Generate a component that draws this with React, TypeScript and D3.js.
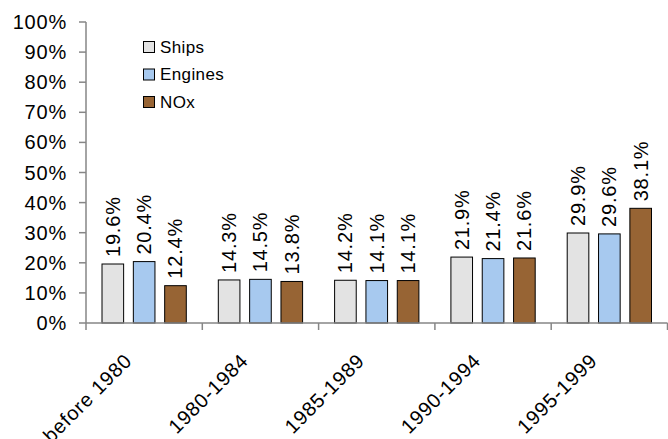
import React from "react";
import * as d3 from "d3";

const categories = ["before 1980", "1980-1984", "1985-1989", "1990-1994", "1995-1999"];
const seriesNames = ["Ships", "Engines", "NOx"];
const ships = [19.6, 14.3, 14.2, 21.9, 29.9];
const engines = [20.4, 14.5, 14.1, 21.4, 29.6];
const nox = [12.4, 13.8, 14.1, 21.6, 38.1];
const seriesColors = ["#e3e3e3", "#a7c9ef", "#976434"];
const yTicks = [0, 10, 20, 30, 40, 50, 60, 70, 80, 90, 100];

const W = 668;
const H = 439;
const FONT = "'Liberation Sans', Arial, Helvetica, sans-serif";

export default function App() {
  const values = [ships, engines, nox];
  const x0 = d3.scaleBand<string>().domain(categories).range([86, 667.5]).padding(0);
  const groupW = 94;
  const x1 = d3
    .scaleBand<string>()
    .domain(seriesNames)
    .range([0, groupW])
    .paddingInner(0.31)
    .paddingOuter(0.155);
  const y = d3.scaleLinear().domain([0, 100]).range([323, 22]);
  const axisColor = "#868686";

  const boundaries = [...categories.map((c) => x0(c)!), x0.range()[1]];

  return (
    <svg
      width={W}
      height={H}
      style={{ position: "absolute", left: 0, top: 0, background: "#fff" }}
      fontFamily={FONT}
    >
      <rect x={0} y={0} width={W} height={H} fill="#fff" />

      {/* y axis */}
      <line x1={86} x2={86} y1={y(100)} y2={y(0)} stroke={axisColor} strokeWidth={1.5} />
      {yTicks.map((t) => (
        <g key={t}>
          <line x1={79} x2={86} y1={y(t)} y2={y(t)} stroke={axisColor} strokeWidth={1.5} />
          <text
            x={67}
            y={y(t)}
            dy="0.35em"
            textAnchor="end"
            fontSize={20}
            letterSpacing={0.8}
            fill="#000"
          >
            {t}%
          </text>
        </g>
      ))}

      {/* bars */}
      {categories.map((c, ci) => {
        const gx = x0(c)! + (x0.bandwidth() - groupW) / 2;
        return (
          <g key={c}>
            {seriesNames.map((s, si) => {
              const v = values[si][ci];
              const bx = gx + x1(s)!;
              const bw = x1.bandwidth();
              const top = y(v);
              const cx = bx + bw / 2;
              return (
                <g key={s}>
                  <rect
                    x={bx}
                    y={top}
                    width={bw}
                    height={y(0) - top}
                    fill={seriesColors[si]}
                    stroke="#000"
                    strokeWidth={1}
                  />
                  <text
                    transform={`translate(${cx + 7},${top - 7}) rotate(-90)`}
                    textAnchor="start"
                    fontSize={20}
                    letterSpacing={0.8}
                    fill="#000"
                  >
                    {v.toFixed(1)}%
                  </text>
                </g>
              );
            })}
          </g>
        );
      })}

      {/* x axis */}
      <line x1={86} x2={667.5} y1={y(0)} y2={y(0)} stroke={axisColor} strokeWidth={1.5} />
      {boundaries.map((bx, i) => (
        <line key={i} x1={bx} x2={bx} y1={y(0)} y2={y(0) + 7} stroke={axisColor} strokeWidth={1.5} />
      ))}
      {categories.map((c) => {
        const cx = x0(c)! + x0.bandwidth() / 2;
        return (
          <text
            key={c}
            transform={`translate(${cx - 11},362) rotate(-45)`}
            textAnchor="end"
            fontSize={20}
            letterSpacing={0.8}
            fill="#000"
          >
            {c}
          </text>
        );
      })}

      {/* legend */}
      {seriesNames.map((s, i) => {
        const ly = 47 + i * 27.5;
        return (
          <g key={s}>
            <rect
              x={143.5}
              y={ly - 5.5}
              width={11}
              height={11}
              fill={seriesColors[i]}
              stroke="#000"
              strokeWidth={1}
            />
            <text x={160} y={ly} dy="0.35em" fontSize={17} letterSpacing={0.4} fill="#000">
              {s}
            </text>
          </g>
        );
      })}
    </svg>
  );
}
